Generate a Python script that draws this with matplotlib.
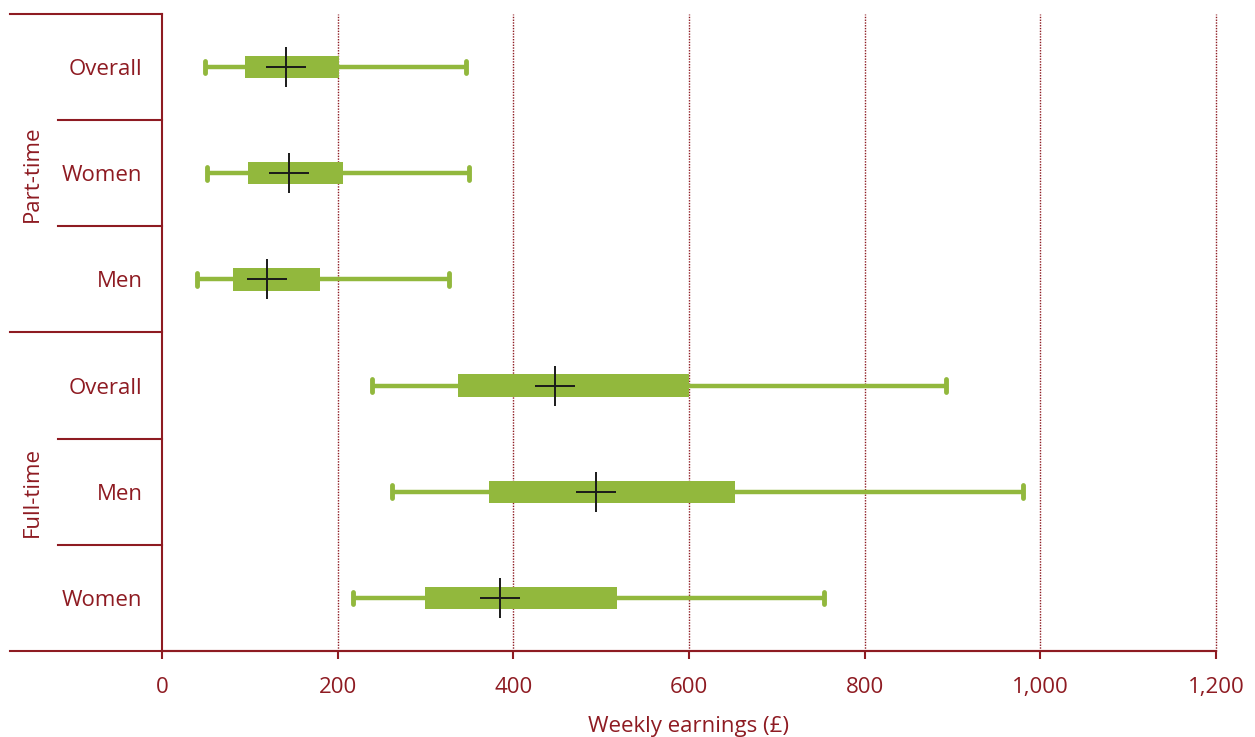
import matplotlib
matplotlib.use("Agg")
import matplotlib.pyplot as plt
from matplotlib.ticker import StrMethodFormatter

plt.rcParams['font.family'] = ['Open Sans', 'DejaVu Sans']

# weekly earnings (GBP): whisker low, Q1, median, Q3, whisker high
groups = ["Part-time", "Full-time"]
rows = ["Overall", "Women", "Men", "Overall", "Men", "Women"]
low = [49, 51, 40, 239, 262, 217]
q1 = [94, 98, 81, 337, 372, 299]
median = [141, 145, 120, 447, 494, 385]
q3 = [201, 206, 180, 600, 652, 518]
high = [346, 350, 327, 893, 980, 754]
xticks = [0, 200, 400, 600, 800, 1000, 1200]

red = "#8E1B22"
green = "#92B83D"

fig = plt.figure(figsize=(12.55, 7.37), dpi=100)
ax = fig.add_axes([0.1291, 0.1167, 0.9689 - 0.1291, 0.981 - 0.1167])

ypos = list(range(len(rows)))

# gridlines behind everything
for x in xticks[1:]:
    ax.axvline(x, color=red, lw=1.0, ls=(0, (1, 1)), zorder=0, clip_on=False)

# whiskers, caps, boxes, median crosses
ax.hlines(ypos, low, high, color=green, lw=3.2, zorder=2)
ax.vlines(low, [y - 0.06 for y in ypos], [y + 0.06 for y in ypos],
          color=green, lw=3.5, capstyle='round', zorder=2)
ax.vlines(high, [y - 0.06 for y in ypos], [y + 0.06 for y in ypos],
          color=green, lw=3.5, capstyle='round', zorder=2)
ax.barh(ypos, [b - a for a, b in zip(q1, q3)], left=q1, height=0.21,
        color=green, zorder=3)
ax.plot(median, ypos, ls='none', marker='+', ms=29, mew=1.4, color='#1a1a1a', zorder=4)

ax.set_xlim(0, 1200)
ax.set_ylim(5.5, -0.5)
ax.set_xticks(xticks)
ax.xaxis.set_major_formatter(StrMethodFormatter('{x:,.0f}'))
ax.set_yticks(ypos)
ax.set_yticklabels(rows)

ax.tick_params(axis='x', colors=red, labelsize=16, length=6, width=1.5, pad=13)
ax.tick_params(axis='y', colors=red, labelsize=16, length=0, pad=14)
ax.set_xlabel("Weekly earnings (£)", color=red, fontsize=16, labelpad=13)

for side in ['top', 'right']:
    ax.spines[side].set_visible(False)
for side in ['left', 'bottom']:
    ax.spines[side].set_color(red)
    ax.spines[side].set_linewidth(1.5)

# extended axis line and group separators on the left
x_far = -0.1442
x_near = (58 - 162) / (1216 - 162)
ax.plot([x_far, 0], [1, 1], transform=ax.transAxes, color=red, lw=1.5, clip_on=False)
ax.plot([x_far, 1], [0, 0], transform=ax.transAxes, color=red, lw=1.5, clip_on=False)
ax.plot([x_far, 0], [0.5, 0.5], transform=ax.transAxes, color=red, lw=1.5, clip_on=False)
for frac in [1 / 6, 2 / 6, 4 / 6, 5 / 6]:
    ax.plot([x_near, 0], [frac, frac], transform=ax.transAxes, color=red, lw=1.5, clip_on=False)

x_group = (32 - 162) / (1216 - 162)
ax.text(x_group, 0.75, groups[0], transform=ax.transAxes, rotation=90,
        ha='center', va='center', color=red, fontsize=16)
ax.text(x_group, 0.25, groups[1], transform=ax.transAxes, rotation=90,
        ha='center', va='center', color=red, fontsize=16)

fig.savefig("out.png", dpi=100)
